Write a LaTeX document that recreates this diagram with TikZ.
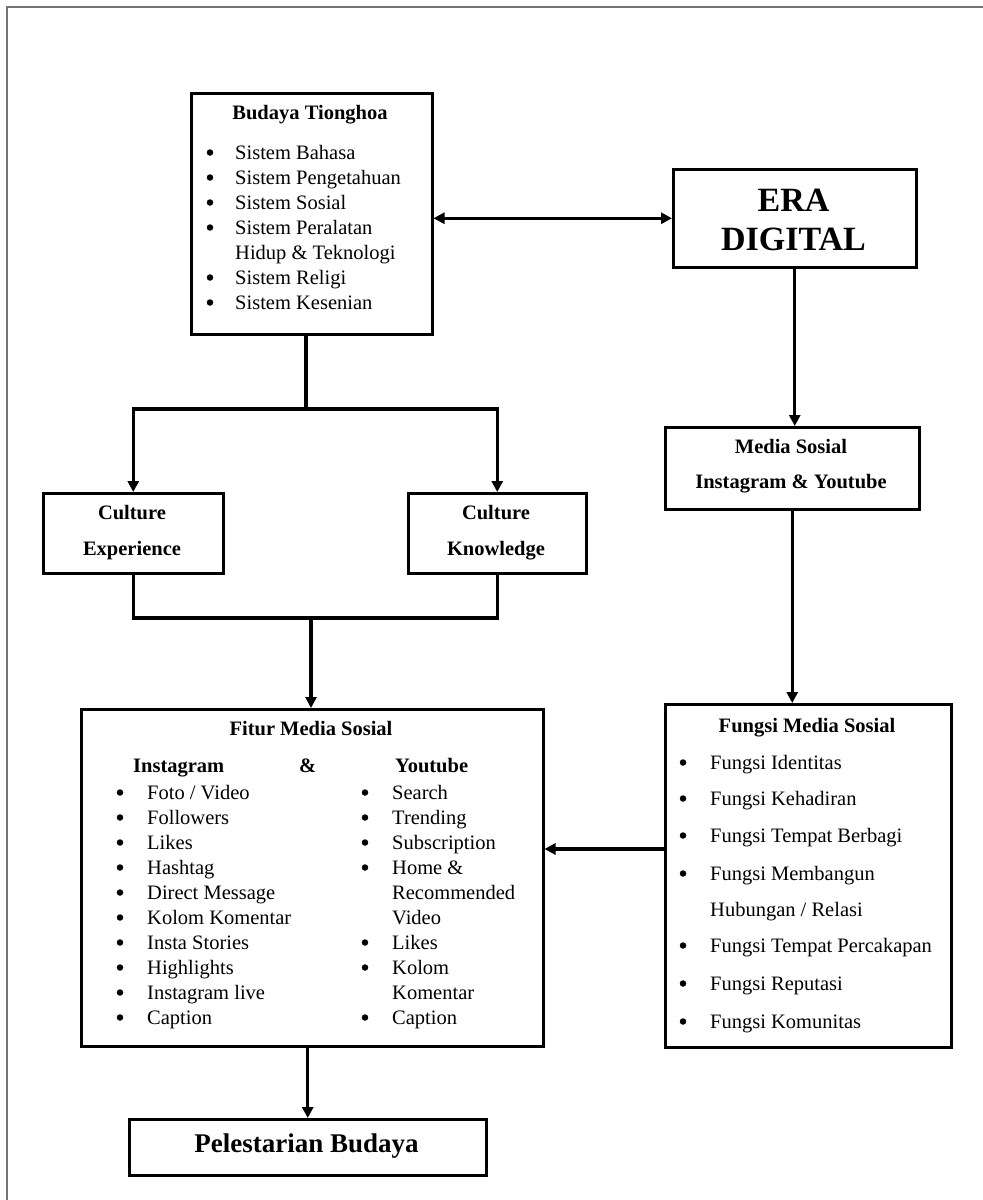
\documentclass[tikz,border=0pt]{standalone}
\usepackage{fontspec}
\setmainfont{Liberation Serif}
\usetikzlibrary{arrows.meta}
\begin{document}
\begin{tikzpicture}[x=1pt,y=-1pt,
  box/.style={draw, line width=2.5pt, inner sep=0pt, anchor=north west},
  conn/.style={line width=3.2pt, line join=miter},
  arr/.style={conn, -{Triangle[length=11pt,width=11pt]}},
  darr/.style={conn, {Triangle[length=11pt,width=11pt]}-{Triangle[length=11pt,width=11pt]}},
  frame/.style={draw=black!55, line width=1.5pt},
  txt/.style={inner sep=0pt, anchor=base west, font=\fontsize{20.5}{24}\selectfont},
  ttl/.style={inner sep=0pt, anchor=base, font=\fontsize{20.5}{24}\selectfont\bfseries},
  hdr/.style={inner sep=0pt, anchor=base west, font=\fontsize{20.5}{24}\selectfont\bfseries},
  bul/.style={circle, fill=black, draw=none, inner sep=0pt, minimum size=6.5pt, yshift=6.5pt},
  big/.style={inner sep=0pt, anchor=base, font=\fontsize{34}{40}\selectfont\bfseries},
  mid/.style={inner sep=0pt, anchor=base, font=\fontsize{27}{32}\selectfont\bfseries}]
\useasboundingbox (0,0) rectangle (983,1200);
\fill[white] (0,0) rectangle (983,1200);
% outer frame (only top and left edges visible)
\draw[frame] (7,1200) -- (7,7) -- (983,7);

% boxes
\node[box, minimum width=241pt, minimum height=241pt] (budaya) at (190,92) {};
\node[box, minimum width=243pt, minimum height=98pt] (era) at (672,168) {};
\node[box, minimum width=254pt, minimum height=82pt] (media) at (664,426) {};
\node[box, minimum width=180pt, minimum height=80pt] (ce) at (42,492) {};
\node[box, minimum width=178pt, minimum height=80pt] (ck) at (407,492) {};
\node[box, minimum width=462pt, minimum height=337pt] (fitur) at (80,708) {};
\node[box, minimum width=286pt, minimum height=343pt] (fungsi) at (664,703) {};
\node[box, minimum width=357pt, minimum height=56pt] (pel) at (128,1118) {};

% Budaya Tionghoa
\node[ttl] (bt) at (310,119) {Budaya Tionghoa};
\foreach \n/\y/\t in {1/159/{Sistem Bahasa}, 2/184/{Sistem Pengetahuan}, 3/209/{Sistem Sosial}, 4/234/{Sistem Peralatan}, 6/284/{Sistem Religi}, 7/309/{Sistem Kesenian}}{
  \node[bul] (bb\n) at (210,\y) {};
  \node[txt] (bi\n) at (235,\y) {\t};
}
\node[txt] (bi5) at (235,259) {Hidup \& Teknologi};

% ERA DIGITAL
\node[big] (era1) at (793.5,211) {ERA};
\node[big] (era2) at (793.5,250) {DIGITAL};

% Media Sosial
\node[ttl] (ms1) at (791,453) {Media Sosial};
\node[ttl] (ms2) at (791,488) {Instagram \& Youtube};

% Culture boxes
\node[ttl] (ce1) at (132,519) {Culture};
\node[ttl] (ce2) at (132,555) {Experience};
\node[ttl] (ck1) at (496,519) {Culture};
\node[ttl] (ck2) at (496,555) {Knowledge};

% Fitur Media Sosial
\node[ttl] (ft) at (311,735) {Fitur Media Sosial};
\node[hdr] (fig) at (133,772) {Instagram};
\node[hdr] (famp) at (299,772) {\&};
\node[hdr] (fyt) at (395,772) {Youtube};
\foreach \n/\y/\t in {1/799/{Foto / Video}, 2/824/{Followers}, 3/849/{Likes}, 4/874/{Hashtag}, 5/899/{Direct Message}, 6/924/{Kolom Komentar}, 7/949/{Insta Stories}, 8/974/{Highlights}, 9/999/{Instagram live}, 10/1024/{Caption}}{
  \node[bul] (fb\n) at (120,\y) {};
  \node[txt] (fi\n) at (147,\y) {\t};
}
\foreach \n/\y in {1/799, 2/824, 3/849, 4/874, 7/949, 8/974, 10/1024}{
  \node[bul] (yb\n) at (365,\y) {};
}
\foreach \n/\y/\t in {1/799/{Search}, 2/824/{Trending}, 3/849/{Subscription}, 4/874/{Home \&}, 5/899/{Recommended}, 6/924/{Video}, 7/949/{Likes}, 8/974/{Kolom}, 9/999/{Komentar}, 10/1024/{Caption}}{
  \node[txt] (yi\n) at (392,\y) {\t};
}

% Fungsi Media Sosial
\node[ttl] (gt) at (807,732) {Fungsi Media Sosial};
\foreach \n/\y/\t in {1/769/{Fungsi Identitas}, 2/805/{Fungsi Kehadiran}, 3/842/{Fungsi Tempat Berbagi}, 4/880/{Fungsi Membangun}, 6/952/{Fungsi Tempat Percakapan}, 7/990/{Fungsi Reputasi}, 8/1028/{Fungsi Komunitas}}{
  \node[bul] (gb\n) at (683,\y) {};
  \node[txt] (gi\n) at (710,\y) {\t};
}
\node[txt] (gi5) at (710,916) {Hubungan / Relasi};

% Pelestarian Budaya
\node[mid] (pt) at (306.5,1152) {Pelestarian Budaya};

% connectors
\draw[darr] (era.west -| budaya.east) -- (era.west);
\draw[arr] (era.south) -- (era.south |- media.north);
\draw[arr] (media.south) -- (media.south |- fungsi.north);

\coordinate (split) at (306,409);
\draw[conn] (budaya.south -| split) -- (split);
\draw[darr] (ce.north) -- (ce.north |- split) -- (ck.north |- split) -- (ck.north);

\coordinate (merge) at (311,618);
\draw[conn] (ce.south) -- (ce.south |- merge) -- (ck.south |- merge) -- (ck.south);
\draw[arr] (merge) -- (merge |- fitur.north);

\coordinate (side) at (600,849);
\draw[arr] (fungsi.west |- side) -- (fitur.east |- side);
\draw[arr] (fitur.south -| pel.north) -- (pel.north);
\end{tikzpicture}
\end{document}
